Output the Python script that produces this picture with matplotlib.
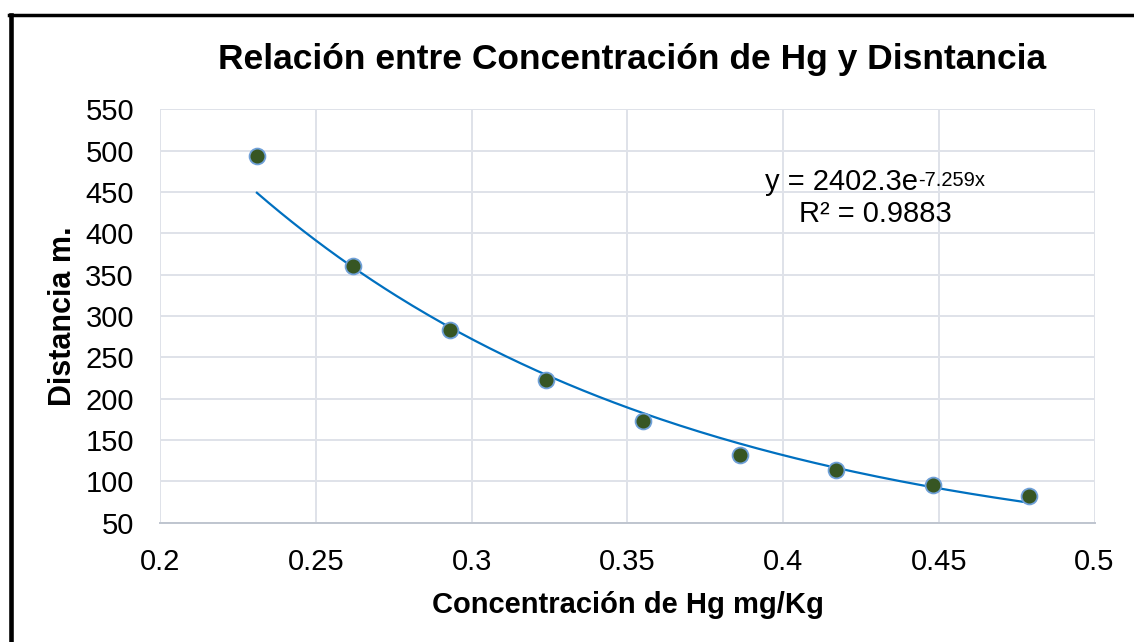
import numpy as np
import matplotlib
matplotlib.use("Agg")
import matplotlib.pyplot as plt
from matplotlib.lines import Line2D

plt.rcParams['font.family'] = ['Liberation Sans', 'DejaVu Sans']

# Data
concentracion = [0.231, 0.262, 0.293, 0.324, 0.355, 0.386, 0.417, 0.448, 0.479]
distancia = [494, 360, 283, 223, 173, 132, 114, 96, 82]

# Exponential trendline y = a * exp(b x)
fit_a = 2402.3
fit_b = -7.259
r2 = 0.9883

x_ticks = [0.2, 0.25, 0.3, 0.35, 0.4, 0.45, 0.5]
x_tick_labels = ['0.2', '0.25', '0.3', '0.35', '0.4', '0.45', '0.5']
y_ticks = [50, 100, 150, 200, 250, 300, 350, 400, 450, 500, 550]

fig = plt.figure(figsize=(11.34, 6.42), dpi=100)
ax = fig.add_axes([0.1414, 0.1858, 0.8238, 0.6438])

# Trendline
xs = np.linspace(min(concentracion), max(concentracion), 200)
ax.plot(xs, fit_a * np.exp(fit_b * xs), color='#0070C0', linewidth=1.6, zorder=3)

# Points
ax.scatter(concentracion, distancia, s=130, color='#375623',
           edgecolors='#6FA0D8', linewidths=1.3, zorder=4)

ax.set_xlim(0.2, 0.5)
ax.set_ylim(50, 550)
ax.set_xticks(x_ticks)
ax.set_xticklabels(x_tick_labels)
ax.set_yticks(y_ticks)

ax.grid(True, color='#DFE2E9', linewidth=1.4)
ax.set_axisbelow(True)
for side in ['top', 'right', 'left']:
    ax.spines[side].set_visible(False)
ax.spines['bottom'].set_color('#BFC5CF')
ax.spines['bottom'].set_linewidth(1.4)

ax.tick_params(axis='both', length=0, labelsize=21, colors='black')
ax.tick_params(axis='y', pad=19)
ax.tick_params(axis='x', pad=18)

ax.set_xlabel('Concentración de Hg mg/Kg', fontsize=21, fontweight='bold', labelpad=11)
ax.set_ylabel('Distancia m.', fontsize=22, fontweight='bold', labelpad=5)

fig.text(0.5574, 0.8925, 'Relación entre Concentración de Hg y Disntancia',
         fontsize=25.5, fontweight='bold', ha='center', va='baseline')

# Trendline equation
eq = ax.text(0.647, 0.805, 'y = 2402.3e', transform=ax.transAxes,
             fontsize=21, ha='left', va='baseline')
ax.annotate('-7.259x', xy=(1, 1), xycoords=eq, xytext=(0, -2),
            textcoords='offset points', fontsize=14.5, ha='left', va='top')
ax.text(0.765, 0.727, f'R² = {r2}', transform=ax.transAxes,
        fontsize=21, ha='center', va='baseline')

# Black frame (top and left edges)
fig.add_artist(Line2D([0.0097, 0.0097], [0.0, 0.976], transform=fig.transFigure,
                      color='black', linewidth=3.3))
fig.add_artist(Line2D([0.0079, 1.0], [0.976, 0.976], transform=fig.transFigure,
                      color='black', linewidth=2.5))

fig.savefig('out.png', dpi=100, facecolor='white')
